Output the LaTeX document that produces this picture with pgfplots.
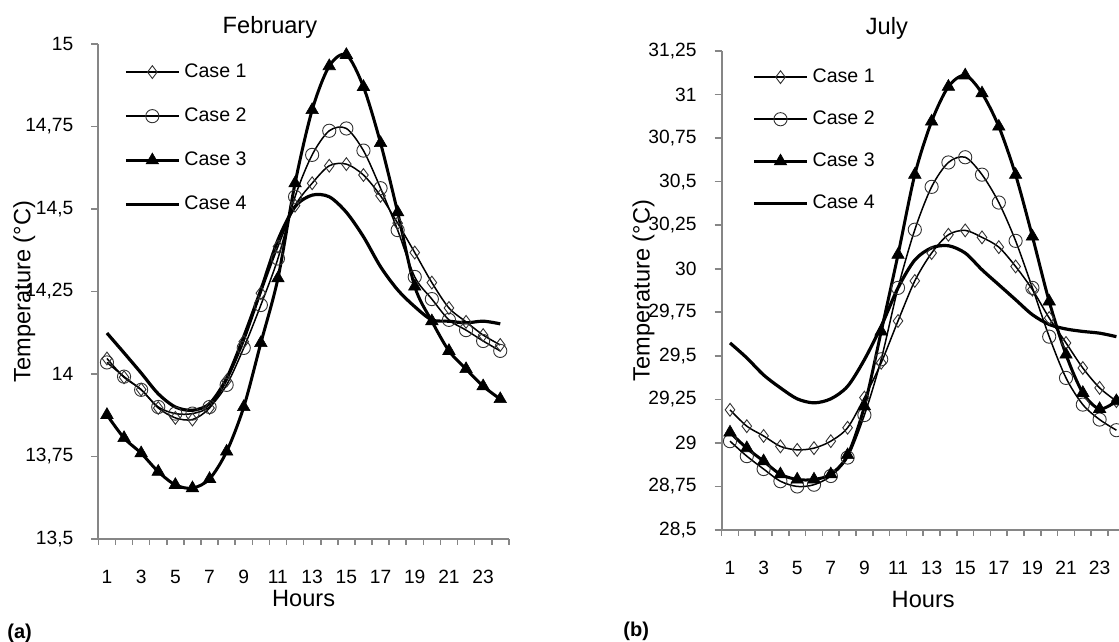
\documentclass[border=0pt]{standalone}
\usepackage{fontspec}
\setmainfont{Liberation Sans}
\usepackage{pgfplots}
\pgfplotsset{compat=1.18}
\definecolor{axgray}{RGB}{134,134,134}
\definecolor{mkgray}{RGB}{50,50,50}
\pgfplotsset{
  myaxis/.style={
    scale only axis, anchor=south west, clip=false,
    axis lines*=left,
    axis line style={axgray, line width=0.9pt},
    xmin=0.5, xmax=24.5,
    xtick={1,3,...,23},
    minor xtick={0.5,1.5,...,24.5},
    major x tick style={draw=none},
    minor x tick style={axgray, line width=0.8pt},
    y tick style={axgray, line width=0.8pt},
    tick align=outside,
    major tick length=3.5pt, minor tick length=3pt,
    tick label style={font=\fontsize{9.6}{11}\selectfont},
    xticklabel style={anchor=base, yshift=-19pt},
    yticklabel style={xshift=-5.5pt},
    /pgf/number format/assume math mode=true,
    /pgf/number format/use comma,
    /pgf/number format/1000 sep={},
    label style={font=\fontsize{11.8}{13}\selectfont},
    title style={font=\fontsize{11.8}{13}\selectfont, anchor=base},
    legend style={draw=none, fill=none, inner sep=0pt, anchor=north west,
      font=\fontsize{9.8}{11}\selectfont, row sep=9.7pt},
    legend cell align=left,
    legend image code/.code={\draw[mark repeat=2,mark phase=2,##1] plot coordinates {(0pt,0pt) (13.25pt,0pt) (26.5pt,0pt)};},
    xlabel={Hours}, ylabel={Temperature (°C)},
  },
  c1/.style={black, line width=0.75pt, smooth, mark=diamond, mark size=3.2pt, mark options={solid, draw=mkgray, line width=0.45pt, fill=none}},
  c2/.style={black, line width=0.75pt, smooth, mark=o, mark size=3.3pt, mark options={solid, draw=mkgray, line width=0.45pt, fill=none}},
  c3/.style={black, line width=1.5pt, smooth, mark=triangle*, mark size=3.6pt, mark options={solid, fill=black, draw=black, line width=0.3pt}},
  c4/.style={black, line width=1.6pt, smooth, no marks},
}
\begin{document}
\begin{tikzpicture}
\begin{axis}[myaxis,
  at={(49.2pt,51.5pt)}, width=205.2pt, height=247.5pt,
  ymin=13.5, ymax=15, ytick={13.5,13.75,14,14.25,14.5,14.75,15},
  title={February}, title style={at={(axis description cs:0.418,1)}, yshift=-1pt},
  xlabel style={at={(axis description cs:0.5,0)}, anchor=base, yshift=-34pt},
  ylabel style={at={(axis description cs:-0.1655,0.5)}, anchor=base},
  legend style={at={(axis description cs:0.062,0.969)}},
]
\addplot[c1] coordinates {(1,14.047)(2,13.99)(3,13.953)(4,13.897)(5,13.867)(6,13.862)(7,13.897)(8,13.98)(9,14.098)(10,14.245)(11,14.386)(12,14.51)(13,14.578)(14,14.631)(15,14.636)(16,14.603)(17,14.54)(18,14.457)(19,14.368)(20,14.277)(21,14.20)(22,14.158)(23,14.118)(24,14.088)};
\addlegendentry{Case 1}
\addplot[c2] coordinates {(1,14.035)(2,13.992)(3,13.952)(4,13.90)(5,13.88)(6,13.88)(7,13.90)(8,13.967)(9,14.079)(10,14.209)(11,14.35)(12,14.537)(13,14.664)(14,14.737)(15,14.744)(16,14.677)(17,14.563)(18,14.436)(19,14.294)(20,14.227)(21,14.164)(22,14.133)(23,14.10)(24,14.07)};
\addlegendentry{Case 2}
\addplot[c3] coordinates {(1,13.876)(2,13.806)(3,13.76)(4,13.704)(5,13.664)(6,13.654)(7,13.682)(8,13.765)(9,13.90)(10,14.094)(11,14.29)(12,14.578)(13,14.80)(14,14.933)(15,14.967)(16,14.87)(17,14.70)(18,14.49)(19,14.265)(20,14.16)(21,14.07)(22,14.015)(23,13.963)(24,13.924)};
\addlegendentry{Case 3}
\addplot[c4] coordinates {(1,14.124)(2,14.064)(3,14.003)(4,13.94)(5,13.90)(6,13.89)(7,13.91)(8,13.987)(9,14.113)(10,14.255)(11,14.406)(12,14.507)(13,14.542)(14,14.537)(15,14.49)(16,14.416)(17,14.325)(18,14.255)(19,14.204)(20,14.164)(21,14.16)(22,14.155)(23,14.16)(24,14.152)};
\addlegendentry{Case 4}
\end{axis}
\begin{axis}[myaxis,
  at={(360.8pt,56pt)}, width=201.6pt, height=239.5pt,
  ymin=28.5, ymax=31.25, ytick={28.5,28.75,29,29.25,29.5,29.75,30,30.25,30.5,30.75,31,31.25},
  title={July}, title style={at={(axis description cs:0.41,1)}, yshift=2pt},
  xlabel style={at={(axis description cs:0.5,0)}, anchor=base, yshift=-39pt},
  ylabel style={at={(axis description cs:-0.1786,0.5)}, anchor=base},
  legend style={at={(axis description cs:0.0754,0.972)}, row sep=8.7pt},
]
\addplot[c1] coordinates {(1,29.19)(2,29.096)(3,29.04)(4,28.98)(5,28.96)(6,28.97)(7,29.01)(8,29.087)(9,29.26)(10,29.46)(11,29.70)(12,29.93)(13,30.09)(14,30.195)(15,30.22)(16,30.18)(17,30.124)(18,30.013)(19,29.88)(20,29.717)(21,29.574)(22,29.43)(23,29.316)(24,29.24)};
\addlegendentry{Case 1}
\addplot[c2] coordinates {(1,29.01)(2,28.924)(3,28.85)(4,28.78)(5,28.75)(6,28.76)(7,28.81)(8,28.916)(9,29.16)(10,29.48)(11,29.89)(12,30.224)(13,30.47)(14,30.61)(15,30.64)(16,30.54)(17,30.38)(18,30.16)(19,29.89)(20,29.61)(21,29.373)(22,29.22)(23,29.134)(24,29.073)};
\addlegendentry{Case 2}
\addplot[c3] coordinates {(1,29.06)(2,28.97)(3,28.895)(4,28.82)(5,28.79)(6,28.79)(7,28.82)(8,28.93)(9,29.21)(10,29.64)(11,30.08)(12,30.54)(13,30.845)(14,31.045)(15,31.11)(16,31.007)(17,30.816)(18,30.539)(19,30.185)(20,29.812)(21,29.507)(22,29.287)(23,29.195)(24,29.24)};
\addlegendentry{Case 3}
\addplot[c4] coordinates {(1,29.574)(2,29.488)(3,29.39)(4,29.316)(5,29.253)(6,29.23)(7,29.253)(8,29.325)(9,29.478)(10,29.67)(11,29.89)(12,30.05)(13,30.12)(14,30.132)(15,30.09)(16,29.994)(17,29.908)(18,29.822)(19,29.736)(20,29.68)(21,29.654)(22,29.64)(23,29.63)(24,29.61)};
\addlegendentry{Case 4}
\end{axis}
\node[anchor=base west, inner sep=0pt, font=\bfseries\fontsize{10}{12}\selectfont] at (3.5pt,1.5pt) {(a)};
\node[anchor=base west, inner sep=0pt, font=\bfseries\fontsize{10}{12}\selectfont] at (311.5pt,2.5pt) {(b)};
\pgfresetboundingbox
\path[use as bounding box] (0,0) rectangle (559.5pt,321pt);
\end{tikzpicture}
\end{document}
